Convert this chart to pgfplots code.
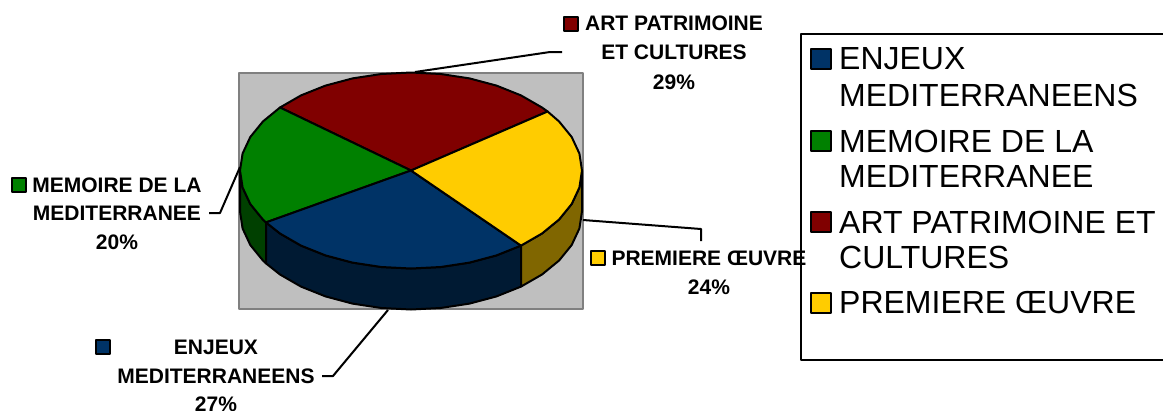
\documentclass[border=0pt]{standalone}
\usepackage{pgfplots}
\pgfplotsset{compat=1.18}
\usepackage{fontspec}
\setmainfont{Liberation Sans}
\definecolor{cblue}{HTML}{003366}
\definecolor{cgreen}{HTML}{008000}
\definecolor{cred}{HTML}{800000}
\definecolor{cyellow}{HTML}{FFCC00}
\definecolor{dblue}{HTML}{001A33}
\definecolor{dgreen}{HTML}{004000}
\definecolor{dyellow}{HTML}{806600}
\newcommand{\lab}{\fontsize{21}{24}\selectfont\bfseries}
\newcommand{\leg}{\fontsize{32}{36}\selectfont}
\begin{document}
\begin{tikzpicture}
\clip (0,0) rectangle (1163pt,410pt);
\begin{axis}[
  at={(0,0)}, anchor=south west,
  scale only axis, width=1163pt, height=410pt,
  xmin=0, xmax=1163, ymin=0, ymax=410, y dir=reverse,
  hide axis, clip=false,
  every axis plot/.append style={line join=round},
]
% plot area
\addplot[fill=black!25, draw=black!50, line width=2pt] coordinates {(239,73)(583,73)(583,309)(239,309)} -- cycle;
% side walls
\addplot[fill=dgreen, draw=black, line width=2pt] coordinates {(240,170.5)(242.6,187.5)(250.3,204)(262.9,219.5)(266,222.4)(266,263.4)(262.9,260.5)(250.3,245)(242.6,228.5)(240,211.5)} -- cycle;
\addplot[fill=dblue, draw=black, line width=2pt] coordinates {(266,222.4)(280,233.5)(301,245.6)(325.5,255.4)(352.5,262.6)(381.3,267)(411,268.5)(440.7,267)(469.5,262.6)(496.5,255.4)(521,245.6)(521,286.6)(496.5,296.4)(469.5,303.6)(440.7,308)(411,309.5)(381.3,308)(352.5,303.6)(325.5,296.4)(301,286.6)(280,274.5)(266,263.4)} -- cycle;
\addplot[fill=dyellow, draw=black, line width=2pt] coordinates {(521,245.6)(542,233.5)(559.1,219.5)(571.7,204)(579.4,187.5)(582,170.5)(582,211.5)(579.4,228.5)(571.7,245)(559.1,260.5)(542,274.5)(521,286.6)} -- cycle;
% top wedges
\addplot[fill=cred, draw=black, line width=2pt] coordinates {(411,170.5)(547.6,111.5)(542,107.5)(521,95.4)(496.5,85.6)(469.5,78.4)(440.7,74)(411,72.5)(381.3,74)(352.5,78.4)(325.5,85.6)(301,95.4)(280,107.5)} -- cycle;
\addplot[fill=cgreen, draw=black, line width=2pt] coordinates {(411,170.5)(280,107.5)(262.9,121.5)(250.3,137)(242.6,153.5)(240,170.5)(242.6,187.5)(250.3,204)(262.9,219.5)(266,222.4)} -- cycle;
\addplot[fill=cblue, draw=black, line width=2pt] coordinates {(411,170.5)(266,222.4)(280,233.5)(301,245.6)(325.5,255.4)(352.5,262.6)(381.3,267)(411,268.5)(440.7,267)(469.5,262.6)(496.5,255.4)(521,245.6)} -- cycle;
\addplot[fill=cyellow, draw=black, line width=2pt] coordinates {(411,170.5)(521,245.6)(542,233.5)(559.1,219.5)(571.7,204)(579.4,187.5)(582,170.5)(579.4,153.5)(571.7,137)(559.1,121.5)(547.6,111.5)} -- cycle;
% leader lines
\addplot[draw=black, line width=2pt] coordinates {(415,72)(550,52)(562,52)};
\addplot[draw=black, line width=2pt] coordinates {(583,220)(701,229)(701,241)};
\addplot[draw=black, line width=2pt] coordinates {(240,167)(220,213)(209,213)};
\addplot[draw=black, line width=2pt] coordinates {(388,310)(333,376)(322,376)};
% data-label swatches
\addplot[only marks, mark=square*, mark size=7pt, mark options={fill=cred, draw=black, line width=1.8pt}] coordinates {(571,24)};
\addplot[only marks, mark=square*, mark size=7pt, mark options={fill=cgreen, draw=black, line width=1.8pt}] coordinates {(19,185)};
\addplot[only marks, mark=square*, mark size=7pt, mark options={fill=cblue, draw=black, line width=1.8pt}] coordinates {(103,347)};
\addplot[only marks, mark=square*, mark size=7pt, mark options={fill=cyellow, draw=black, line width=1.8pt}] coordinates {(598,258)};
% data labels
\node[font=\lab, anchor=center] at (axis cs:674,23) {ART PATRIMOINE};
\node[font=\lab, anchor=center] at (axis cs:674,52) {ET CULTURES};
\node[font=\lab, anchor=center] at (axis cs:674,82) {29\%};
\node[font=\lab, anchor=center] at (axis cs:117,185) {MEMOIRE DE LA};
\node[font=\lab, anchor=center] at (axis cs:117,213) {MEDITERRANEE};
\node[font=\lab, anchor=center] at (axis cs:117,242) {20\%};
\node[font=\lab, anchor=center] at (axis cs:216,347) {ENJEUX};
\node[font=\lab, anchor=center] at (axis cs:216,376) {MEDITERRANEENS};
\node[font=\lab, anchor=center] at (axis cs:216,404) {27\%};
\node[font=\lab, anchor=center] at (axis cs:709,258) {PREMIERE ŒUVRE};
\node[font=\lab, anchor=center] at (axis cs:709,287) {24\%};
% legend
\addplot[draw=black, line width=2pt] coordinates {(1175,34)(801,34)(801,360)(1175,360)};
\addplot[only marks, mark=square*, mark size=10pt, mark options={fill=cblue, draw=black, line width=2pt}] coordinates {(821,59)};
\addplot[only marks, mark=square*, mark size=10pt, mark options={fill=cgreen, draw=black, line width=2pt}] coordinates {(821,141)};
\addplot[only marks, mark=square*, mark size=10pt, mark options={fill=cred, draw=black, line width=2pt}] coordinates {(821,222)};
\addplot[only marks, mark=square*, mark size=10pt, mark options={fill=cyellow, draw=black, line width=2pt}] coordinates {(821,303)};
\node[font=\leg, anchor=west, inner sep=0pt] at (axis cs:839,59) {ENJEUX};
\node[font=\leg, anchor=west, inner sep=0pt] at (axis cs:839,95) {MEDITERRANEENS};
\node[font=\leg, anchor=west, inner sep=0pt] at (axis cs:839,141) {MEMOIRE DE LA};
\node[font=\leg, anchor=west, inner sep=0pt] at (axis cs:839,176) {MEDITERRANEE};
\node[font=\leg, anchor=west, inner sep=0pt] at (axis cs:839,222) {ART PATRIMOINE ET};
\node[font=\leg, anchor=west, inner sep=0pt] at (axis cs:839,257) {CULTURES};
\node[font=\leg, anchor=west, inner sep=0pt] at (axis cs:839,303) {PREMIERE ŒUVRE};
\end{axis}
\end{tikzpicture}
\end{document}
